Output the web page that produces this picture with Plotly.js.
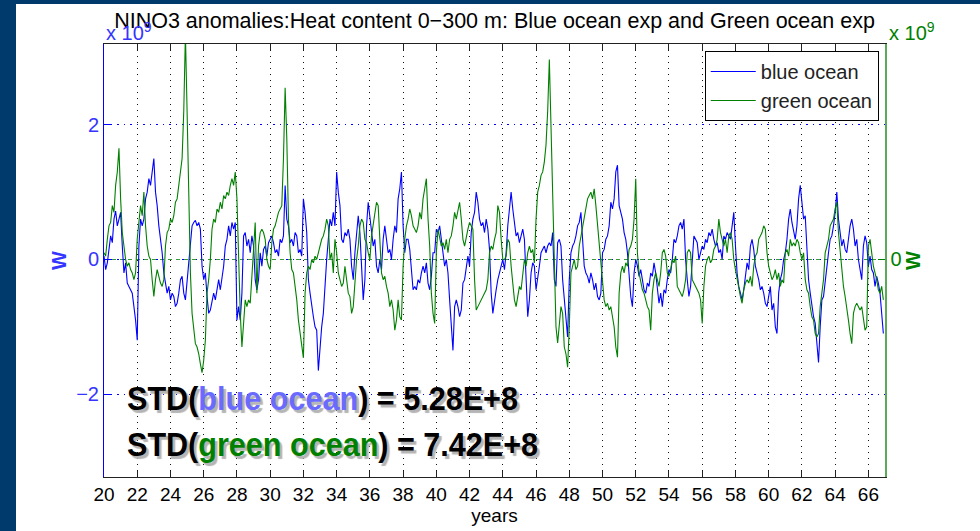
<!DOCTYPE html>
<html>
<head>
<meta charset="utf-8">
<script src="https://cdn.plot.ly/plotly-3.0.1.min.js"></script>
<style>
  html, body { margin: 0; padding: 0; width: 980px; height: 531px; background: #003a6c; overflow: hidden; }
  #chart { position: absolute; left: 16px; top: 4px; width: 964px; height: 527px; background: #ffffff; }
</style>
</head>
<body>
<div id="chart"></div>
<script>
// Time axis: samples read every 0.1 year, starting at year 20
const startYear = 20;
const stepYear = 0.1;

// Blue ocean anomalies (x 10^9 W), one row per year (20.0 ... 66.9)
const blueOcean = [
  0.05,-0.15,-0.05,0.2,0.35,0.25,0.6,0.72,0.5,0.6,
  0.7,0.2,-0.2,-0.05,-0.35,-0.4,-0.45,-0.5,-0.7,-0.9,
  -1.2,0.2,0.6,0.5,0.6,0.9,1.0,1.2,1.1,1.3,
  1.5,1.0,0.8,0.5,0.3,0.1,-0.2,-0.35,-0.5,-0.4,
  -0.6,-0.5,-0.55,-0.7,-0.65,-0.5,-0.3,-0.25,-0.5,-0.6,
  -0.3,0.0,0.3,0.5,0.55,0.58,0.5,0.55,0.45,-0.1,
  -0.3,-0.2,-0.55,-0.8,-0.75,-0.6,-0.5,-0.6,-0.45,-0.3,
  -0.45,-0.25,-0.1,0.2,0.3,0.5,0.35,0.55,0.45,0.55,
  -0.9,-0.7,-0.9,-0.5,0.35,0.4,0.2,0.3,0.1,0.35,
  0.2,-0.3,-0.45,-0.3,0.1,-0.1,0.15,0.2,0.05,0.25,
  0.3,0.35,0.25,0.1,0.15,0.05,0.3,0.25,0.35,1.1,
  0.6,0.5,0.25,0.3,0.2,0.4,0.35,0.1,0.15,0.05,
  0.9,0.7,0.4,-0.3,-0.5,-0.7,-0.85,-1.0,-1.05,-1.65,
  -1.3,-1.0,-0.8,-0.35,0.0,0.3,0.6,0.5,0.7,0.5,
  1.3,1.0,0.8,0.3,0.25,0.4,0.35,0.45,0.3,-0.1,
  -0.3,0.1,0.35,0.65,0.4,-0.2,-0.6,-0.3,0.5,0.85,
  0.6,0.45,0.2,0.3,-0.1,-0.2,0.0,-0.15,0.3,0.5,
  0.3,0.1,0.15,0.0,0.3,0.5,0.4,0.9,1.05,1.3,
  0.5,0.1,0.3,0.3,0.15,-0.2,-0.45,-0.4,-0.45,-0.3,
  -0.35,-0.2,-0.1,-0.2,-0.05,-0.35,-0.45,-0.25,0.1,0.1,
  0.45,0.4,0.5,0.3,0.1,-0.1,0.0,-0.2,-0.6,-1.0,
  -1.35,-0.7,-0.6,-0.7,-0.85,-0.75,-0.35,-0.3,-0.1,0.05,
  -0.1,0.4,0.6,0.7,1.0,0.85,0.6,0.5,0.55,0.4,
  0.6,0.45,0.15,-0.5,-0.8,-0.6,-0.45,-0.3,-0.2,-0.1,
  0.0,-0.15,0.1,0.5,0.8,1.0,0.75,0.5,0.35,0.4,
  0.25,0.35,0.45,0.3,-0.25,-0.85,-0.6,-0.2,-0.05,-0.1,
  -0.45,-0.3,-0.1,0.1,0.15,0.2,0.1,0.2,0.25,0.2,
  0.4,-0.3,-0.4,0.25,0.3,0.2,-0.3,-0.6,-0.8,-1.15,
  -0.3,0.1,0.2,0.25,0.35,0.5,0.55,0.7,0.3,-0.1,
  -0.2,-0.25,-0.35,-0.2,-0.3,-0.45,-0.35,-0.55,-0.6,-0.5,
  0.1,0.15,0.3,0.35,0.5,0.85,0.75,0.9,1.3,1.4,
  0.8,0.7,0.6,0.4,0.3,0.1,-0.3,-0.55,-0.7,-0.2,
  0.0,-0.1,-0.25,-0.15,-0.3,-0.45,-0.5,-0.35,-0.4,-0.2,
  -0.25,-0.05,-0.2,-0.4,-0.65,-0.5,-0.7,-0.45,-0.5,-0.3,
  -0.15,-0.2,0.0,0.3,0.25,0.35,0.5,0.55,0.45,0.6,
  0.0,-0.3,-0.55,-0.4,0.0,0.35,0.3,0.25,0.0,0.1,
  0.2,0.15,0.3,0.25,0.4,0.35,0.45,0.3,0.2,0.25,
  0.1,0.15,0.0,0.35,0.3,0.4,0.35,0.3,0.5,0.7,
  0.2,-0.2,-0.4,-0.5,-0.6,-0.45,-0.2,-0.05,-0.15,0.2,
  0.3,0.15,-0.1,-0.2,-0.3,-0.45,-0.4,-0.5,-0.65,-0.7,
  -0.55,-0.4,-0.75,-0.65,-1.0,-1.1,-0.5,-0.3,-0.2,0.0,
  0.1,0.3,0.6,0.75,0.55,0.4,0.3,0.5,0.9,1.1,
  0.8,0.6,0.65,0.1,-0.3,-0.5,-0.7,-0.85,-0.95,-1.2,
  -1.53,-1.0,-0.6,-0.55,-0.3,-0.1,0.1,0.3,0.35,0.5,
  0.7,1.0,0.6,0.4,0.2,0.3,0.15,0.1,0.3,0.5,
  0.6,0.45,0.2,0.3,0.0,-0.15,-0.3,0.2,0.35,0.25,
  -0.1,0.05,-0.15,-0.2,-0.4,-0.25,-0.35,-0.5,-0.8,-1.1
];

// Green ocean anomalies (x 10^9 W), one row per year (20.0 ... 66.9)
const greenOcean = [
  0.1,0.05,0.3,0.5,0.55,0.8,0.7,1.1,1.3,1.65,
  0.9,0.4,0.2,0.0,-0.1,-0.05,-0.15,-0.2,-0.3,-0.2,
  0.3,0.55,0.8,0.65,1.0,0.5,0.2,0.05,0.0,-0.3,
  -0.55,-0.3,-0.15,-0.25,-0.35,-0.4,-0.3,0.2,0.4,0.45,
  0.6,0.55,0.65,0.85,0.9,1.1,1.3,1.5,2.2,3.35,
  2.2,0.85,-0.2,-0.8,-1.0,-1.25,-1.3,-1.4,-1.55,-1.68,
  -1.5,-1.2,-0.5,-0.3,0.0,0.45,0.6,0.55,0.75,0.7,
  0.85,0.75,0.95,0.9,1.0,0.95,1.1,1.2,1.1,1.3,
  0.9,0.0,-0.8,-1.3,-0.9,-0.6,-0.7,-0.6,-0.65,-0.2,
  0.3,0.55,-0.5,0.2,0.4,0.45,0.4,0.3,0.0,-0.1,
  -0.15,0.25,0.45,0.5,0.6,0.7,0.75,0.8,1.5,2.55,
  1.8,0.6,0.1,-0.15,-0.2,-0.4,-0.6,-0.9,-1.1,-1.35,
  -1.46,-0.5,-0.2,-0.1,-0.15,0.0,-0.05,0.05,0.0,0.1,
  0.2,0.3,0.35,0.45,0.6,0.5,0.0,0.1,-0.2,0.3,
  0.1,-0.2,-0.3,-0.4,-0.35,-0.1,-0.3,-0.5,-0.55,-0.8,
  -0.7,-0.3,0.0,0.2,0.5,0.6,0.55,0.3,0.25,0.1,
  0.0,0.35,0.5,0.7,0.85,0.8,0.3,-0.2,-0.3,-0.25,
  -0.4,-0.5,-0.7,-0.6,-0.75,-1.05,-0.9,-0.6,-0.85,-0.9,
  -0.1,0.3,0.5,0.6,0.75,0.65,0.5,0.45,0.4,0.5,
  0.7,0.6,0.9,1.05,1.2,0.6,0.2,-0.5,-0.8,-0.95,
  0.1,0.45,0.3,0.2,0.25,0.15,0.3,0.1,0.3,0.35,
  0.5,0.7,0.6,0.75,0.85,0.6,0.3,0.2,0.35,0.45,
  0.55,0.5,0.45,-0.3,-0.75,-0.7,-0.65,-0.6,-0.55,-0.5,
  -0.45,-0.3,0.1,0.2,0.15,0.3,0.4,0.8,0.7,0.3,
  0.0,0.0,0.05,0.3,0.25,-0.1,-0.4,-0.6,-0.7,-0.55,
  -0.4,-0.45,-0.2,0.0,-0.1,0.1,0.2,0.1,0.15,-0.05,
  0.6,1.0,1.1,1.25,1.3,1.45,1.7,2.2,2.97,2.0,
  1.0,-0.3,-1.0,-1.24,-0.9,-0.7,-0.8,-1.3,-1.4,-1.6,
  -1.0,-0.2,-0.1,0.0,-0.15,-0.1,0.2,0.35,0.45,0.6,
  0.75,0.9,0.95,1.0,0.9,1.05,0.8,0.5,0.3,0.0,
  -0.3,-0.6,-0.7,-0.65,-0.75,-0.7,-0.85,-1.0,-1.3,-1.45,
  -0.5,-0.2,-0.1,-0.2,-0.05,-0.1,0.15,0.2,0.3,0.6,
  1.2,0.1,-0.2,-0.35,-0.45,-0.5,-0.6,-0.7,-0.75,-1.05,
  -0.5,-0.3,-0.2,-0.3,-0.4,-0.2,0.1,0.15,0.05,-0.2,
  -0.25,-0.15,0.0,-0.05,0.05,-0.4,-0.45,-0.5,-0.55,-0.45,
  -0.3,0.1,0.15,0.1,-0.3,-0.35,-0.4,-0.45,-0.5,-0.6,
  -0.95,-0.4,-0.1,0.0,0.05,-0.05,0.0,0.15,0.2,0.3,
  0.6,0.4,0.3,0.2,0.3,0.1,0.35,0.4,0.3,0.0,
  -0.15,-0.3,-0.45,-0.55,-0.65,-0.45,-0.35,-0.3,-0.35,-0.25,
  -0.4,-0.1,0.05,0.1,0.3,0.35,0.4,0.5,0.45,0.1,
  -0.1,-0.2,-0.3,-0.25,-0.15,-0.3,-0.2,-0.4,-0.3,-0.35,
  0.1,0.15,0.05,0.3,0.2,0.25,0.2,0.3,0.25,0.1,
  0.0,0.1,-0.3,-0.45,-0.5,-0.7,-0.85,-0.9,-1.1,-1.15,
  -1.1,-0.7,-0.5,-0.3,0.1,0.2,0.3,0.5,0.55,0.6,
  0.75,0.85,0.4,0.1,-0.2,-0.4,-0.55,-0.7,-0.9,-1.1,
  -1.25,-0.8,-0.7,-0.65,-0.7,-0.75,-0.7,-0.9,-1.05,-1.0,
  0.2,0.3,0.1,-0.1,-0.2,-0.3,-0.45,-0.5,-0.4,-0.6
];

const seriesNames = ['blue ocean', 'green ocean'];
const xTickValues = [20,22,24,26,28,30,32,34,36,38,40,42,44,46,48,50,52,54,56,58,60,62,64,66];
const yTickValues = [-2, 0, 2];
const stdLabels = ['5.28E+8', '7.42E+8'];
const titleText = 'NINO3 anomalies:Heat content 0\u2212300 m: Blue ocean exp and Green ocean exp';

const blueYears = blueOcean.map((_, i) => +(startYear + i * stepYear).toFixed(2));
const greenYears = greenOcean.map((_, i) => +(startYear + i * stepYear).toFixed(2));

const BLUE = '#0000ff';
const BLUE_TXT = '#3535ff';
const GREEN = '#008000';
const FONT = 'Liberation Sans, Arial, Helvetica, sans-serif';
const yRange = [-3.23, 3.2];
const stdWidths = [391, 411];

const traces = [
  { x: blueYears, y: blueOcean, name: seriesNames[0], type: 'scatter', mode: 'lines',
    line: { color: BLUE, width: 1.1 }, yaxis: 'y' },
  { x: greenYears, y: greenOcean, name: seriesNames[1], type: 'scatter', mode: 'lines',
    line: { color: GREEN, width: 1.1 }, yaxis: 'y2' }
];

const stdFont = { family: FONT, size: 34, color: '#000', weight: 'bold', shadow: '3px 3px 1px #b4b4b4' };

const layout = {
  width: 964, height: 527,
  paper_bgcolor: '#ffffff', plot_bgcolor: '#ffffff',
  margin: { l: 88, r: 95, t: 40, b: 54 },
  font: { family: FONT, color: '#000' },
  title: { text: titleText, font: { family: FONT, size: 21.5, color: '#000' },
           x: 0.5, xref: 'paper', xanchor: 'center', y: 0.969, yref: 'container', yanchor: 'middle' },
  showlegend: true,
  legend: { x: 0.992, xanchor: 'right', y: 0.984, yanchor: 'top', bgcolor: '#fff',
            bordercolor: '#000', borderwidth: 1, font: { family: FONT, size: 20, color: '#222' },
            itemwidth: 45, tracegroupgap: 0 },
  xaxis: {
    range: [20, 67], tickvals: xTickValues, ticks: 'inside', ticklen: 6, tickcolor: '#222',
    showline: true, linecolor: '#222', linewidth: 1, mirror: 'ticks',
    showgrid: true, gridcolor: '#111', griddash: '1px,5px', gridwidth: 1, zeroline: false,
    tickfont: { family: FONT, size: 19, color: '#000' },
    title: { text: 'years', font: { family: FONT, size: 19, color: '#000' }, standoff: 4 }
  },
  yaxis: {
    range: yRange, tickvals: yTickValues, ticks: 'inside', ticklen: 7, tickcolor: BLUE,
    showline: true, linecolor: BLUE, linewidth: 1, mirror: false,
    showgrid: true, gridcolor: BLUE, griddash: '1.5px,5px', gridwidth: 1, zeroline: false,
    tickfont: { family: FONT, size: 20, color: BLUE_TXT },
    title: { text: 'W', font: { family: FONT, size: 20, color: BLUE_TXT, weight: 'bold' }, standoff: 4 }
  },
  yaxis2: {
    range: yRange, overlaying: 'y', side: 'right', tickvals: [0], ticks: 'inside', ticklen: 7,
    tickcolor: GREEN, showline: true, linecolor: '#5aaa5a', linewidth: 1.5,
    showgrid: true, gridcolor: '#3a9a3a', griddash: '4px,4px', zeroline: false,
    tickfont: { family: FONT, size: 20, color: GREEN },
    title: { text: 'W', font: { family: FONT, size: 20, color: GREEN, weight: 'bold' }, standoff: 2 }
  },
  annotations: [
    { text: 'x 10<sup>9</sup>', xref: 'paper', yref: 'paper', x: 0, y: 1.03, xanchor: 'left', yanchor: 'middle',
      showarrow: false, font: { family: FONT, size: 20, color: BLUE_TXT } },
    { text: 'x 10<sup>9</sup>', xref: 'paper', yref: 'paper', x: 1.003, y: 1.03, xanchor: 'left', yanchor: 'middle',
      showarrow: false, font: { family: FONT, size: 20, color: GREEN } },
    { text: 'STD(<span style="color:#6a6aff">' + seriesNames[0] + '</span>) = ' + stdLabels[0],
      xref: 'paper', yref: 'paper', x: 0.027, y: 0.183, xanchor: 'left', yanchor: 'middle', align: 'left',
      showarrow: false, font: stdFont },
    { text: 'STD(<span style="color:#008000">' + seriesNames[1] + '</span>) = ' + stdLabels[1],
      xref: 'paper', yref: 'paper', x: 0.027, y: 0.077, xanchor: 'left', yanchor: 'middle', align: 'left',
      showarrow: false, font: stdFont }
  ]
};

Plotly.newPlot('chart', traces, layout, { displayModeBar: false, staticPlot: true }).then(() => {
  // condense the STD labels horizontally, like the narrow bold face of the original
  let k = 0;
  document.querySelectorAll('#chart .annotation-text').forEach(t => {
    if (t.textContent.indexOf('STD(') === 0) {
      t.setAttribute('textLength', stdWidths[k++]);
      t.setAttribute('lengthAdjust', 'spacingAndGlyphs');
    }
  });
});
</script>
</body>
</html>
